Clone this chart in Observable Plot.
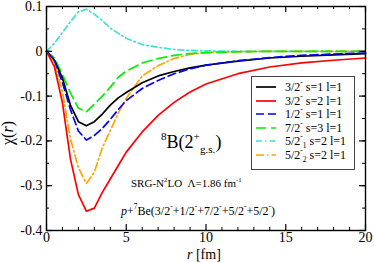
<!DOCTYPE html>
<html>
<head>
<meta charset="utf-8">
<script src="https://cdn.jsdelivr.net/npm/d3@7"></script>
<script src="https://cdn.jsdelivr.net/npm/@observablehq/plot@0.6"></script>
<style>
  body { margin: 0; background: #fff; }
  #wrap { position: relative; width: 374px; height: 262px; font-family: "Liberation Serif", "Times New Roman", serif; color: #000; overflow: hidden; }
  #wrap svg { display: block; }
  .t { position: absolute; line-height: 1; white-space: nowrap; }
  .t sup, .t sub { line-height: 0; font-size: 0.62em; }
  .t sup { vertical-align: 0.75em; }
  .t sub { vertical-align: -0.45em; }
  #legend { position: absolute; left: 251px; top: 76px; width: 102px; height: 92px; border: 1px solid #444; background: #fff; }
</style>
</head>
<body>
<div id="wrap"></div>
<script>
// ---- data ----
const r = [0, 0.5, 1, 1.5, 2, 2.5, 3, 3.5, 4, 4.5, 5, 6, 7, 8, 9, 10, 12, 14, 16, 18, 20];
const chi32s1 = [0, -0.02, -0.06, -0.12, -0.157, -0.166, -0.157, -0.14, -0.12, -0.104, -0.092, -0.07, -0.055, -0.045, -0.037, -0.031, -0.022, -0.015, -0.011, -0.008, -0.005];
const chi32s2 = [0, -0.035, -0.115, -0.24, -0.32, -0.357, -0.35, -0.315, -0.285, -0.255, -0.225, -0.18, -0.143, -0.114, -0.091, -0.073, -0.05, -0.035, -0.026, -0.02, -0.015];
const chi12s1 = [0, -0.02, -0.07, -0.13, -0.178, -0.198, -0.188, -0.172, -0.152, -0.13, -0.11, -0.083, -0.065, -0.05, -0.039, -0.031, -0.021, -0.014, -0.009, -0.006, -0.004];
const chi72s3 = [0, -0.015, -0.052, -0.093, -0.127, -0.135, -0.118, -0.1, -0.08, -0.058, -0.044, -0.026, -0.016, -0.009, -0.005, -0.003, -0.001, 0, 0, 0, 0];
const chi52a = [0, 0.018, 0.042, 0.066, 0.088, 0.094, 0.083, 0.068, 0.052, 0.04, 0.029, 0.015, 0.009, 0.004, 0.002, 0.001, 0, 0, 0, 0, 0];
const chi52b = [0, -0.025, -0.09, -0.195, -0.26, -0.295, -0.27, -0.215, -0.177, -0.138, -0.105, -0.055, -0.032, -0.016, -0.007, -0.003, -0.001, 0, 0, 0, 0];

const seriesNames = ["3/2⁻ s=1 l=1", "3/2⁻ s=2 l=1", "1/2⁻ s=1 l=1", "7/2⁻ s=3 l=1", "5/2⁻₁ s=2 l=1", "5/2⁻₂ s=2 l=1"];
const seriesLegendHTML = [
  "3/2<sup>-</sup> s=1 l=1",
  "3/2<sup>-</sup> s=2 l=1",
  "1/2<sup>-</sup> s=1 l=1",
  "7/2<sup>-</sup> s=3 l=1",
  "5/2<sup>-</sup><sub>1</sub> s=2 l=1",
  "5/2<sup>-</sup><sub>2</sub> s=2 l=1"
];
const seriesValues = [chi32s1, chi32s2, chi12s1, chi72s3, chi52a, chi52b];
const xMajor = [0, 5, 10, 15, 20];
const xMinor = d3.range(0, 21, 1);
const yMajor = [-0.4, -0.3, -0.2, -0.1, 0, 0.1];
const yMinor = d3.range(-8, 3).map(k => k * 0.05);

// ---- styles ----
const colors = ["#000000", "#ff0000", "#0000ff", "#00f000", "#40e0d0", "#ffa500"];
const dashes = [null, null, "8,4", "10,5", "6,3,1.5,3", "8,3,1.5,3"];
const order = [4, 5, 3, 0, 2, 1]; // drawing order

const W = 374, H = 262;
const mL = 46, mR = 9, mT = 6, mB = 32;
const fw = W - mL - mR, fh = H - mT - mB;

const rows = [];
order.forEach(i => {
  r.forEach((rv, j) => rows.push({ series: seriesNames[i], idx: i, r: rv, chi: seriesValues[i][j] }));
});

const lineMarks = order.map(i =>
  Plot.line(rows.filter(d => d.idx === i), {
    x: "r", y: "chi", stroke: colors[i], strokeWidth: 1.7,
    strokeDasharray: dashes[i] || undefined, curve: "linear"
  })
);

const fmt = d => (Math.abs(d) < 1e-9 ? "0" : String(+d.toFixed(1)));

const chart = Plot.plot({
  width: W, height: H,
  marginLeft: mL, marginRight: mR, marginTop: mT, marginBottom: mB,
  style: { fontFamily: "Liberation Serif, serif", fontSize: "14px", color: "#000", background: "transparent" },
  x: { domain: [0, 20] },
  y: { domain: [-0.4, 0.1] },
  marks: [
    ...lineMarks,
    // inward ticks, bottom/top
    Plot.tickX(xMinor.filter(v => !xMajor.includes(v)), { x: d => d, insetTop: fh - 3, stroke: "#000", strokeWidth: 1 }),
    Plot.tickX(xMinor.filter(v => !xMajor.includes(v)), { x: d => d, insetBottom: fh - 3, stroke: "#000", strokeWidth: 1 }),
    Plot.tickX(xMajor, { x: d => d, insetTop: fh - 6, stroke: "#000", strokeWidth: 1.2 }),
    Plot.tickX(xMajor, { x: d => d, insetBottom: fh - 6, stroke: "#000", strokeWidth: 1.2 }),
    // inward ticks, left/right
    Plot.tickY(yMinor, { y: d => d, insetRight: fw - 3, stroke: "#000", strokeWidth: 1 }),
    Plot.tickY(yMinor, { y: d => d, insetLeft: fw - 3, stroke: "#000", strokeWidth: 1 }),
    Plot.tickY(yMajor, { y: d => d, insetRight: fw - 6, stroke: "#000", strokeWidth: 1.2 }),
    Plot.tickY(yMajor, { y: d => d, insetLeft: fw - 6, stroke: "#000", strokeWidth: 1.2 }),
    Plot.axisX({ ticks: xMajor, tickSize: 0, tickPadding: 2, tickFormat: d => String(d), label: null, fontSize: 14 }),
    Plot.axisY({ ticks: yMajor, tickSize: 0, tickPadding: 4, tickFormat: fmt, label: null, fontSize: 14 }),
    Plot.frame({ stroke: "#000", strokeWidth: 1.4 })
  ]
});

const wrap = document.getElementById("wrap");
wrap.appendChild(chart);

function addText(html, left, top, size, extra) {
  const d = document.createElement("div");
  d.className = "t";
  d.style.left = left + "px";
  d.style.top = top + "px";
  d.style.fontSize = size + "px";
  if (extra) Object.assign(d.style, extra);
  d.innerHTML = html;
  wrap.appendChild(d);
  return d;
}

// axis titles
addText("<i>r</i> [fm]", 187, 248, 14);
addText("χ(<i>r</i>)", -4, 125, 16, { transform: "rotate(-90deg)", transformOrigin: "center" });

// annotations
addText("<sup>8</sup>B(2<sup>+</sup><sub>g.s.</sub>)", 161, 133, 18);
addText("SRG-N<sup>2</sup>LO&nbsp;&nbsp;Λ=1.86 fm<sup>-1</sup>", 131, 178, 11);
addText("<i>p</i>+<sup>7</sup>Be(3/2<sup>-</sup>+1/2<sup>-</sup>+7/2<sup>-</sup>+5/2<sup>-</sup>+5/2<sup>-</sup>)", 121, 205, 12);

// legend
const lg = document.createElement("div");
lg.id = "legend";
wrap.appendChild(lg);
seriesLegendHTML.forEach((html, i) => {
  const cy = 87 + 13.6 * i;
  const svg = d3.create("svg").attr("width", 22).attr("height", 6)
    .style("position", "absolute").style("left", (255 - 252) + "px").style("top", (cy - 3 - 77) + "px");
  svg.append("line").attr("x1", 1).attr("x2", 21).attr("y1", 3).attr("y2", 3)
    .attr("stroke", colors[i]).attr("stroke-width", 1.7)
    .attr("stroke-dasharray", dashes[i] || null);
  lg.appendChild(svg.node());
  const t = document.createElement("div");
  t.className = "t";
  t.style.left = (285 - 252) + "px";
  t.style.top = (cy - 6 - 77) + "px";
  t.style.fontSize = "12px";
  t.innerHTML = html;
  lg.appendChild(t);
});
</script>
</body>
</html>
